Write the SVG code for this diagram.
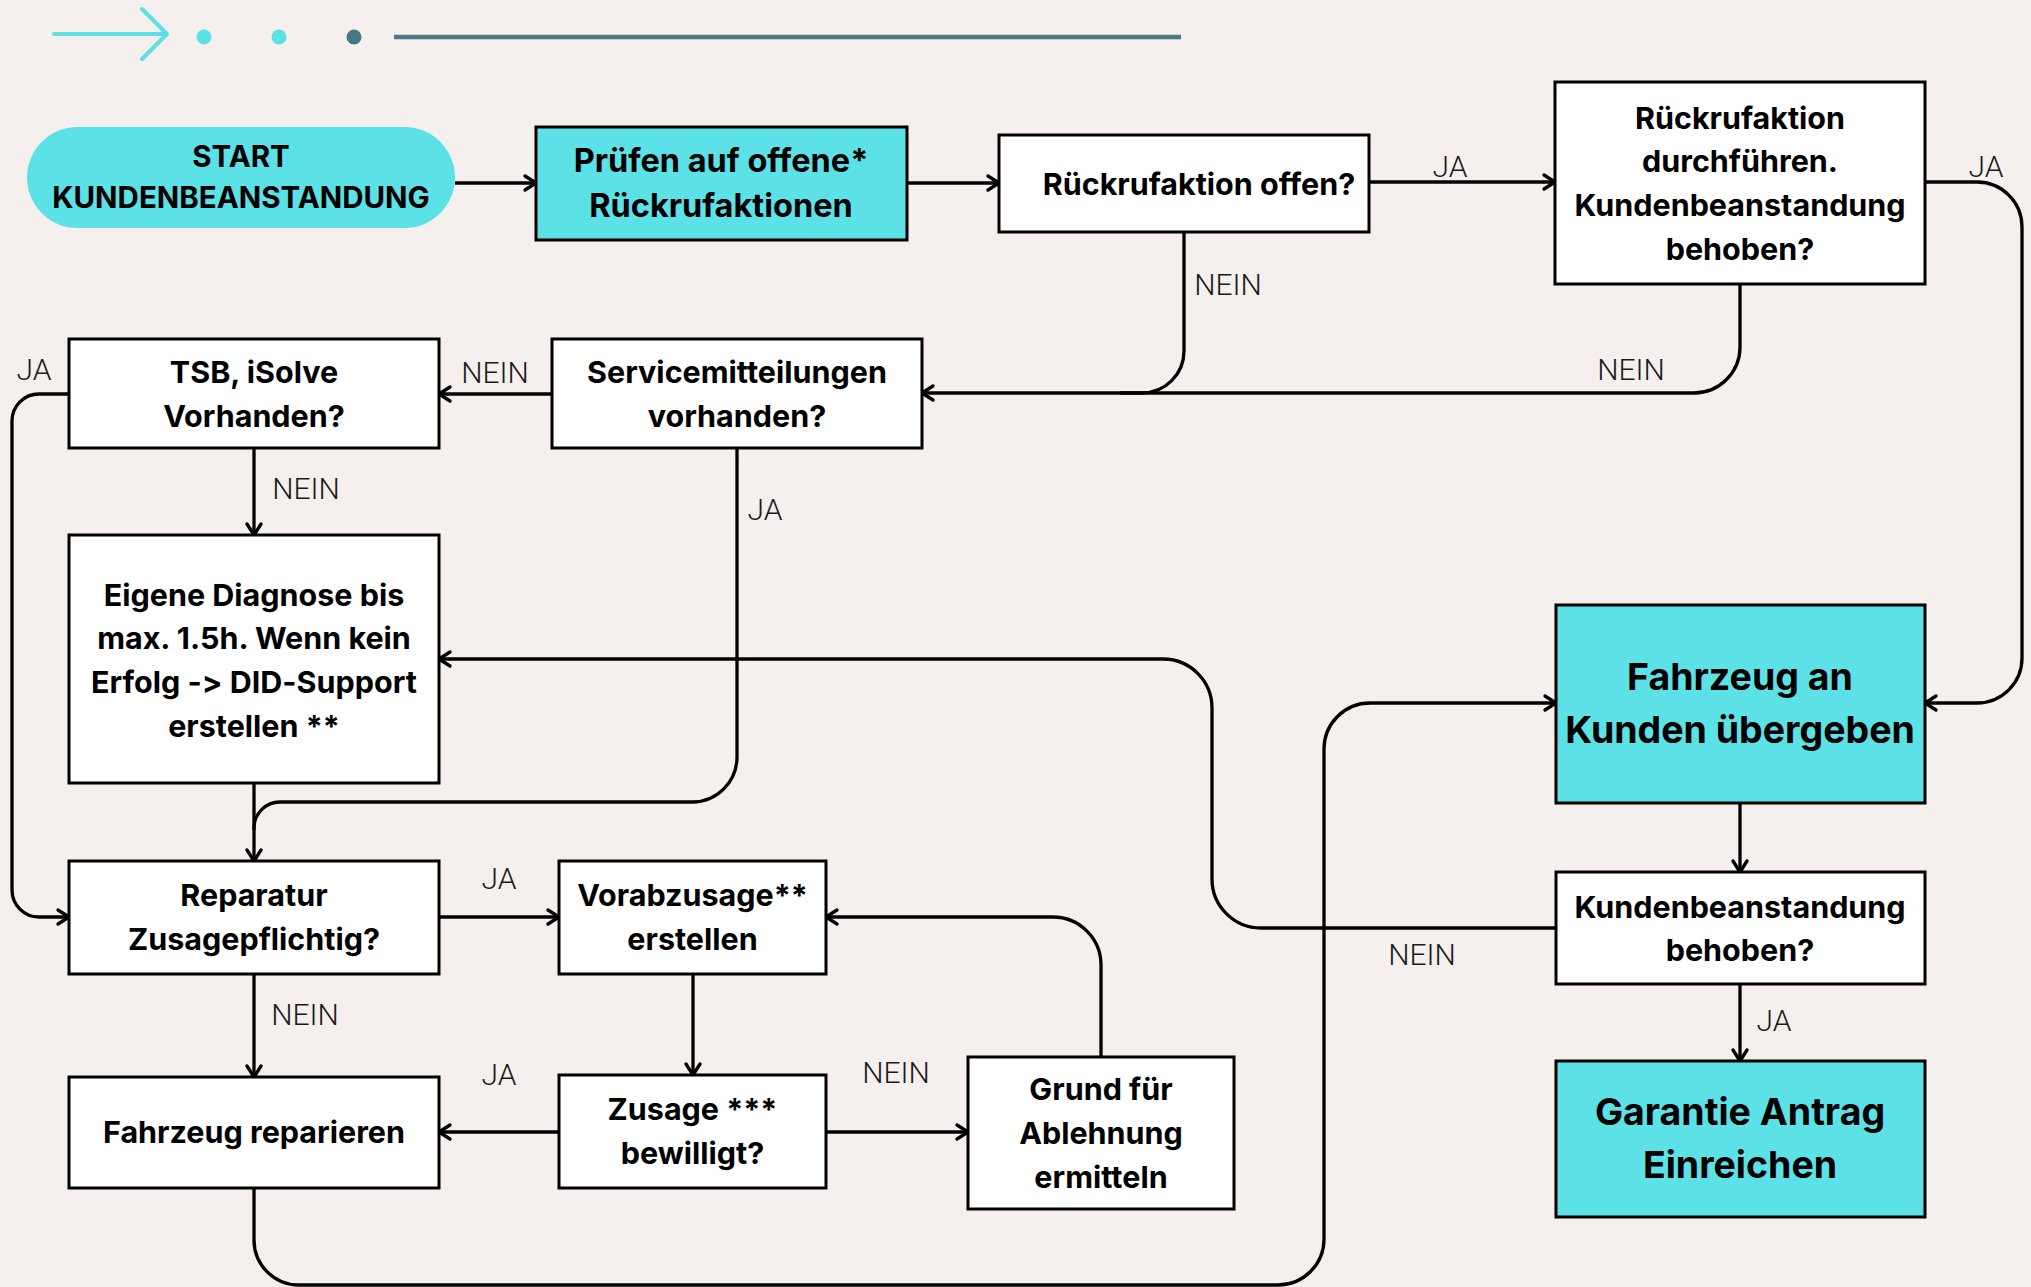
<svg xmlns="http://www.w3.org/2000/svg" width="2031" height="1287" viewBox="0 0 2031 1287">
<defs>
<style>
.bg{fill:#f5f0ed}
.box{fill:#ffffff;stroke:#000;stroke-width:3}
.cy{fill:#5ce1e6;stroke:#000;stroke-width:3}
.pill{fill:#5ce1e6}
.t{font-family:Inter,"Noto Sans","Liberation Sans",sans-serif;font-weight:700;font-size:30.5px;fill:#000;text-anchor:middle;font-variant-ligatures:none;font-feature-settings:"calt" 0,"liga" 0}
.ts{font-size:29.5px}
.tp{font-size:32.5px}
.tb{font-size:37.5px}
.lbl{font-family:Roboto,"Liberation Sans",sans-serif;font-weight:300;font-size:30px;fill:#1a1a1a;text-anchor:middle}
.c{fill:none;stroke:#000;stroke-width:3.3}
.a{marker-end:url(#ah)}
</style>
<marker id="ah" markerUnits="userSpaceOnUse" markerWidth="16" markerHeight="20" refX="12" refY="8" orient="auto" viewBox="0 0 16 16" overflow="visible">
<path d="M1,1 L12,8 L1,15" fill="none" stroke="#000" stroke-width="3.3" stroke-linecap="round" stroke-linejoin="round"/>
</marker>
</defs>
<rect class="bg" x="0" y="0" width="2031" height="1287"/>
<g id="decoration">
<path d="M54,34 H167 M142,9 L167,34 L142,59" fill="none" stroke="#5ce1e6" stroke-width="4" stroke-linecap="round" stroke-linejoin="round"/>
<circle cx="204" cy="37" r="7.5" fill="#5ce1e6"/>
<circle cx="279" cy="37" r="7.5" fill="#5ce1e6"/>
<circle cx="354" cy="37" r="7.5" fill="#477985"/>
<path d="M394,37 H1181" stroke="#4b7a85" stroke-width="4.5"/>
</g>
<g id="connectors">
<path class="c a" d="M455,183 H536"/>
<path class="c a" d="M907,183 H999"/>
<path class="c a" d="M1369,182 H1555"/>
<path class="c a" d="M1925,182 H1977 A45,45 0 0 1 2022,227 V658 A45,45 0 0 1 1977,703 H1925"/>
<path class="c a" d="M1184,232 V351 A42,42 0 0 1 1142,393 H922"/>
<path class="c" d="M1740,284 V347 A46,46 0 0 1 1694,393 H1120"/>
<path class="c a" d="M552,394 H439"/>
<path class="c a" d="M69,394 H39 A27,27 0 0 0 12,421 V890 A27,27 0 0 0 39,917 H69"/>
<path class="c a" d="M254,448 V535"/>
<path class="c a" d="M737,448 V757 A45,45 0 0 1 692,802 H280 A26,26 0 0 0 254,828 V861"/>
<path class="c" d="M254,783 V830"/>
<path class="c a" d="M1556,928 H1261 A49,49 0 0 1 1212,879 V708 A49,49 0 0 0 1163,659 H439"/>
<path class="c a" d="M439,917 H559"/>
<path class="c a" d="M254,974 V1077"/>
<path class="c a" d="M693,974 V1075"/>
<path class="c a" d="M559,1132 H439"/>
<path class="c a" d="M826,1132 H968"/>
<path class="c a" d="M1101,1057 V965 A48,48 0 0 0 1053,917 H826"/>
<path class="c a" d="M254,1188 V1240 A45,45 0 0 0 299,1285 H1278 A46,46 0 0 0 1324,1239 V749 A46,46 0 0 1 1370,703 H1556"/>
<path class="c a" d="M1740,803 V872"/>
<path class="c a" d="M1740,984 V1061"/>
<text class="lbl" x="1450" y="177">JA</text>
<text class="lbl" x="1986" y="177">JA</text>
<text class="lbl" x="1228" y="295">NEIN</text>
<text class="lbl" x="1631" y="380">NEIN</text>
<text class="lbl" x="495" y="383">NEIN</text>
<text class="lbl" x="34" y="380">JA</text>
<text class="lbl" x="306" y="499">NEIN</text>
<text class="lbl" x="765" y="520">JA</text>
<text class="lbl" x="499" y="889">JA</text>
<text class="lbl" x="305" y="1025">NEIN</text>
<text class="lbl" x="499" y="1085">JA</text>
<text class="lbl" x="896" y="1083">NEIN</text>
<text class="lbl" x="1422" y="965">NEIN</text>
<text class="lbl" x="1774" y="1031">JA</text>
</g>
<g id="n-start">
<rect class="pill" x="27" y="127" width="428" height="101" rx="50.5"/>
<text class="t ts" x="241" y="167">START</text>
<text class="t ts" x="241" y="208">KUNDENBEANSTANDUNG</text>
</g>
<g id="n-pruefen">
<rect class="cy" x="536" y="127" width="371" height="113"/>
<text class="t tp" x="721" y="172">Prüfen auf offene*</text>
<text class="t tp" x="721" y="217">Rückrufaktionen</text>
</g>
<g id="n-offen">
<rect class="box" x="999" y="135" width="370" height="97"/>
<text class="t" x="1199" y="195">Rückrufaktion offen?</text>
</g>
<g id="n-durchfuehren">
<rect class="box" x="1555" y="82" width="370" height="202"/>
<text class="t" x="1740" y="129">Rückrufaktion</text>
<text class="t" x="1740" y="172">durchführen.</text>
<text class="t" x="1740" y="216">Kundenbeanstandung</text>
<text class="t" x="1740" y="260">behoben?</text>
</g>
<g id="n-tsb">
<rect class="box" x="69" y="339" width="370" height="109"/>
<text class="t" x="254" y="383">TSB, iSolve</text>
<text class="t" x="254" y="427">Vorhanden?</text>
</g>
<g id="n-service">
<rect class="box" x="552" y="339" width="370" height="109"/>
<text class="t" x="737" y="383">Servicemitteilungen</text>
<text class="t" x="737" y="427">vorhanden?</text>
</g>
<g id="n-diagnose">
<rect class="box" x="69" y="535" width="370" height="248"/>
<text class="t" x="254" y="606">Eigene Diagnose bis</text>
<text class="t" x="254" y="649">max. 1.5h. Wenn kein</text>
<text class="t" x="254" y="693">Erfolg -&gt; DID-Support</text>
<text class="t" x="254" y="737">erstellen **</text>
</g>
<g id="n-reparatur">
<rect class="box" x="69" y="861" width="370" height="113"/>
<text class="t" x="254" y="906">Reparatur</text>
<text class="t" x="254" y="950">Zusagepflichtig?</text>
</g>
<g id="n-vorab">
<rect class="box" x="559" y="861" width="267" height="113"/>
<text class="t" x="692.5" y="906">Vorabzusage**</text>
<text class="t" x="692.5" y="950">erstellen</text>
</g>
<g id="n-reparieren">
<rect class="box" x="69" y="1077" width="370" height="111"/>
<text class="t" x="254" y="1143">Fahrzeug reparieren</text>
</g>
<g id="n-zusage">
<rect class="box" x="559" y="1075" width="267" height="113"/>
<text class="t" x="692.5" y="1120">Zusage ***</text>
<text class="t" x="692.5" y="1164">bewilligt?</text>
</g>
<g id="n-grund">
<rect class="box" x="968" y="1057" width="266" height="152"/>
<text class="t" x="1101" y="1100">Grund für</text>
<text class="t" x="1101" y="1144">Ablehnung</text>
<text class="t" x="1101" y="1188">ermitteln</text>
</g>
<g id="n-uebergeben">
<rect class="cy" x="1556" y="605" width="369" height="198"/>
<text class="t tb" x="1740" y="690">Fahrzeug an</text>
<text class="t tb" x="1740" y="743">Kunden übergeben</text>
</g>
<g id="n-behoben">
<rect class="box" x="1556" y="872" width="369" height="112"/>
<text class="t" x="1740" y="918">Kundenbeanstandung</text>
<text class="t" x="1740" y="961">behoben?</text>
</g>
<g id="n-garantie">
<rect class="cy" x="1556" y="1061" width="369" height="156"/>
<text class="t tb" x="1740" y="1125">Garantie Antrag</text>
<text class="t tb" x="1740" y="1178">Einreichen</text>
</g>
</svg>
